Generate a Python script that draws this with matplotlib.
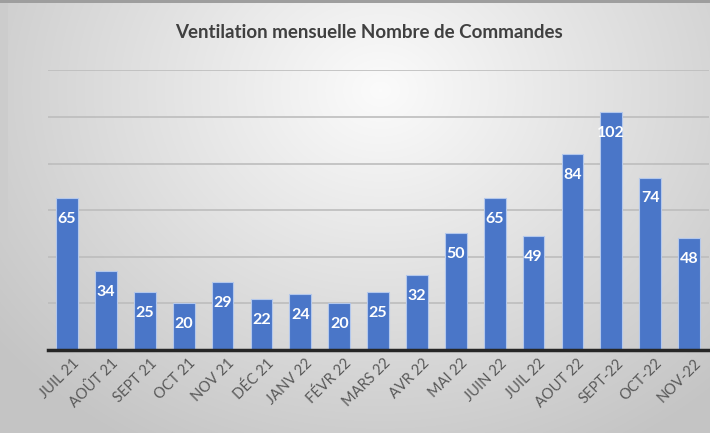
import numpy as np
import matplotlib
matplotlib.use('Agg')
import matplotlib.pyplot as plt
import matplotlib.transforms as mtrans

plt.rcParams['font.family'] = ['Lato', 'DejaVu Sans']

# data
months = ['JUIL 21', 'AOÛT 21', 'SEPT 21', 'OCT 21', 'NOV 21', 'DÉC 21', 'JANV 22',
          'FÉVR 22', 'MARS 22', 'AVR 22', 'MAI 22', 'JUIN 22', 'JUIL 22', 'AOUT 22',
          'SEPT-22', 'OCT-22', 'NOV-22']
commandes = [65, 34, 25, 20, 29, 22, 24, 20, 25, 32, 50, 65, 49, 84, 102, 74, 48]
title = 'Ventilation mensuelle Nombre de Commandes'

fig = plt.figure(figsize=(7.10, 4.33), dpi=100)

# gradient background
bg = fig.add_axes([0, 0, 1, 1], zorder=-10)
yy, xx = np.mgrid[0:433, 0:710]
d = np.sqrt(((xx - 380) / 500.)**2 + ((yy - 90) / 420.)**2)
shade = np.clip(0.985 - 0.22 * d, 0.77, 1.0)
img = np.dstack([shade, shade, shade])
img[0:3, :, :] = 0.62
img[:, 0:8, :] = np.minimum(img[:, 0:8, :], 0.80)
bg.imshow(img, aspect='auto', extent=[0, 1, 0, 1], origin='upper')
bg.axis('off')

ax = fig.add_axes([0.067, 0.1917, 0.931, 0.646])
ax.patch.set_alpha(0)
x = np.arange(len(months))
bars = ax.bar(x, commandes, width=0.56, color='#4a76c8', edgecolor='#b4c8ec',
              linewidth=0.8, zorder=3)

for xi, v in zip(x, commandes):
    ax.annotate(str(v), (xi, v), xytext=(0, -15), textcoords='offset points',
                ha='center', va='center', color='white', fontsize=11.5,
                fontweight='bold', zorder=4)

ax.set_ylim(0, 120)
ax.set_xlim(-0.5, len(months) - 0.5)
ax.set_yticks(np.arange(20, 121, 20))
ax.tick_params(axis='y', left=False, labelleft=False)
ax.tick_params(axis='x', bottom=False, pad=1)
ax.yaxis.grid(True, color='#bdbdbd', linewidth=1.2, zorder=0)
ax.set_axisbelow(True)
for s in ['top', 'right', 'left']:
    ax.spines[s].set_visible(False)
ax.spines['bottom'].set_color('#262626')
ax.spines['bottom'].set_linewidth(2.5)
ax.spines['bottom'].set_zorder(5)

ax.set_xticks(x)
ax.set_xticklabels(months, rotation=45, ha='right', rotation_mode='anchor',
                   fontsize=10.5, color='#595959')
shift = mtrans.ScaledTranslation(5 / 100., 0, fig.dpi_scale_trans)
for lab in ax.get_xticklabels():
    lab.set_transform(lab.get_transform() + shift)

fig.text(0.52, 0.925, title, ha='center', va='center', fontsize=13.5,
         fontweight='bold', color='#404040')

fig.savefig('out.png', dpi=100)
